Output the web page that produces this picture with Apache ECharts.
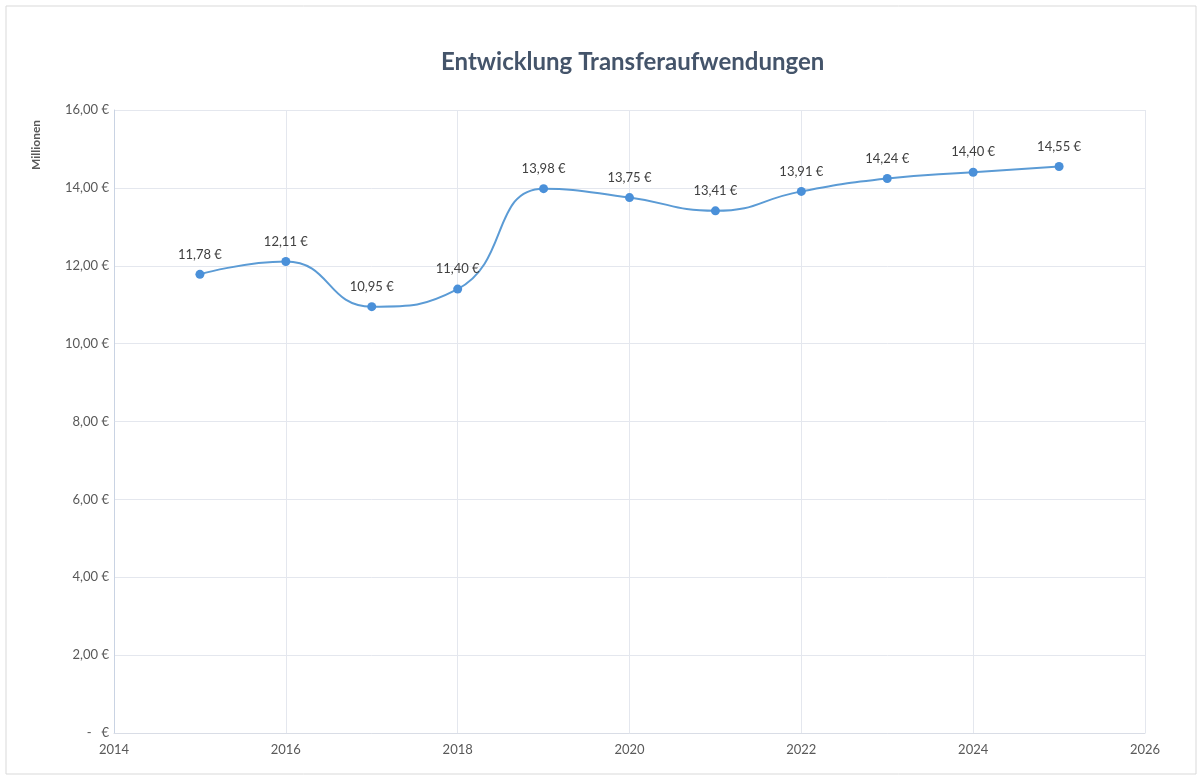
<!DOCTYPE html>
<html><head><meta charset="utf-8">
<script src="https://cdn.jsdelivr.net/npm/echarts@6/dist/echarts.min.js"></script>
<style>html,body{margin:0;padding:0;background:#fff}#c{width:1198px;height:778px}</style>
</head><body><div id="c"></div>
<script>
const years = [2015, 2016, 2017, 2018, 2019, 2020, 2021, 2022, 2023, 2024, 2025];
const values = [11.78, 12.11, 10.95, 11.40, 13.98, 13.75, 13.41, 13.91, 14.24, 14.40, 14.55];
const titleText = 'Entwicklung Transferaufwendungen';
const yAxisName = 'Millionen';

function euro(v) {
  if (v === 0) return '-   €';
  return v.toFixed(2).replace('.', ',') + ' €';
}
const font = 'Lato, "Open Sans", sans-serif';
const chart = echarts.init(document.getElementById('c'));
chart.setOption({
  backgroundColor: '#fff',
  animation: false,
  graphic: [
    {type: 'rect', shape: {x: 6, y: 6, width: 1190, height: 768}, style: {fill: 'none', stroke: '#d9d9d9', lineWidth: 1}, silent: true},
    {type: 'text', x: 36, y: 145, rotation: Math.PI / 2, silent: true,
     style: {text: yAxisName, fill: '#595959', font: 'bold 12px ' + font, align: 'center', verticalAlign: 'middle'}}
  ],
  title: {text: titleText, left: 436, top: 45, textStyle: {fontFamily: font, fontSize: 24, fontWeight: 'bold', color: '#44546a'}},
  grid: {left: 114, right: 53, top: 110, bottom: 45, containLabel: false},
  xAxis: {
    type: 'value', min: 2014, max: 2026, interval: 2,
    axisLine: {show: true, lineStyle: {color: '#d9dde6'}},
    axisTick: {show: false},
    splitLine: {show: true, lineStyle: {color: '#e4e7ee'}},
    axisLabel: {color: '#595959', fontFamily: font, fontSize: 13, margin: 10, formatter: v => String(v)}
  },
  yAxis: {
    type: 'value', min: 0, max: 16, interval: 2,
    axisLine: {show: true, lineStyle: {color: '#c9d3e3'}},
    axisTick: {show: false},
    splitLine: {show: true, lineStyle: {color: '#e4e7ee'}},
    axisLabel: {color: '#595959', fontFamily: font, fontSize: 13, margin: 5, formatter: euro}
  },
  series: [{
    type: 'line',
    data: years.map((y, i) => [y, values[i]]),
    smooth: 0.5,
    symbol: 'circle', symbolSize: 9,
    itemStyle: {color: '#4a90d9'},
    lineStyle: {color: '#5b9bd5', width: 2},
    label: {show: true, position: 'top', distance: 9, color: '#404040', fontFamily: font, fontSize: 13, formatter: p => euro(p.value[1])}
  }]
});
</script></body></html>
